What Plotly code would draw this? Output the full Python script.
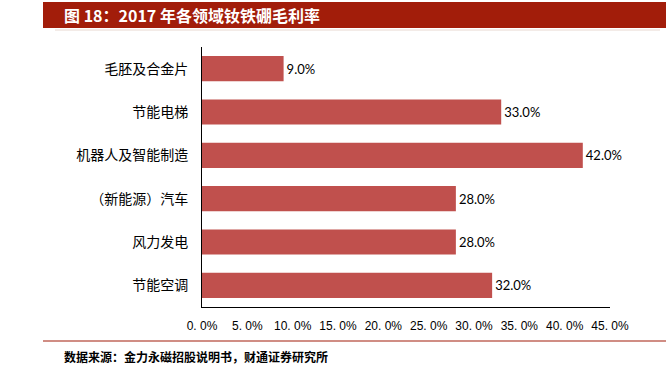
import plotly.graph_objects as go

categories = ["毛胚及合金片", "节能电梯", "机器人及智能制造", "（新能源）汽车", "风力发电", "节能空调"]
values = [9.0, 33.0, 42.0, 28.0, 28.0, 32.0]
tick_vals = [0, 5, 10, 15, 20, 25, 30, 35, 40, 45]
tick_text = ["0. 0%", "5. 0%", "10. 0%", "15. 0%", "20. 0%", "25. 0%", "30. 0%", "35. 0%", "40. 0%", "45. 0%"]
title_text = "图 18：2017 年各领域钕铁硼毛利率"
source_text = "数据来源：金力永磁招股说明书，财通证券研究所"

W, H = 666, 367
L, R, T, B = 202, 56, 47, 60
pw, ph = W - L - R, H - T - B

def px(x):
    return (x - L) / pw

def py(y):
    return (H - B - y) / ph

fig = go.Figure(go.Bar(
    y=categories[::-1],
    x=values[::-1],
    orientation="h",
    marker=dict(color="#C0504D", line=dict(width=0)),
    text=[f"{v:.1f}%" for v in values[::-1]],
    textposition="outside",
    cliponaxis=False,
    textfont=dict(family="Lato, Open Sans, sans-serif", size=13, color="#000000"),
    hoverinfo="skip",
))

fig.update_layout(
    width=W, height=H,
    margin=dict(l=L, r=R, t=T, b=B),
    plot_bgcolor="white", paper_bgcolor="white",
    bargap=0.42,
    showlegend=False,
    xaxis=dict(
        range=[0, 45], tickvals=tick_vals, ticktext=tick_text,
        showgrid=False, zeroline=False, showline=True, linecolor="#000000", linewidth=1,
        ticks="", tickfont=dict(family="Liberation Sans Narrow, Liberation Sans, sans-serif", size=12, color="#000000"),
        ticklabelstandoff=8,
    ),
    yaxis=dict(
        showgrid=False, zeroline=False, showline=True, linecolor="#000000", linewidth=1,
        ticks="", tickfont=dict(family="Noto Sans CJK SC", size=14, color="#000000"),
        ticklabelstandoff=10,
    ),
    font=dict(family="Noto Sans CJK SC"),
)

shapes = [
    dict(type="rect", xref="paper", yref="paper",
         x0=px(43), x1=px(666), y0=py(28), y1=py(2),
         fillcolor="#A21D0A", line=dict(width=0), layer="below"),
    dict(type="line", xref="paper", yref="paper",
         x0=px(55), x1=px(660), y0=py(30), y1=py(30),
         line=dict(color="#E8D8D0", width=1)),
    dict(type="line", xref="paper", yref="paper",
         x0=px(43), x1=px(666), y0=py(341), y1=py(341),
         line=dict(color="#A21D0A", width=1.2)),
]
fig.update_layout(shapes=shapes)

fig.add_annotation(
    xref="paper", yref="paper", x=px(62), y=py(15), xanchor="left", yanchor="middle",
    text=title_text, showarrow=False,
    font=dict(family="Noto Sans CJK SC", size=16, color="white", weight="bold"),
)
fig.add_annotation(
    xref="paper", yref="paper", x=px(62), y=py(356), xanchor="left", yanchor="middle",
    text=source_text, showarrow=False,
    font=dict(family="Noto Sans CJK SC", size=12, color="#000000", weight="bold"),
)

fig.write_html("out.html", config={"displayModeBar": False},
               post_script="document.body.style.margin='0';document.body.style.overflow='hidden';")
